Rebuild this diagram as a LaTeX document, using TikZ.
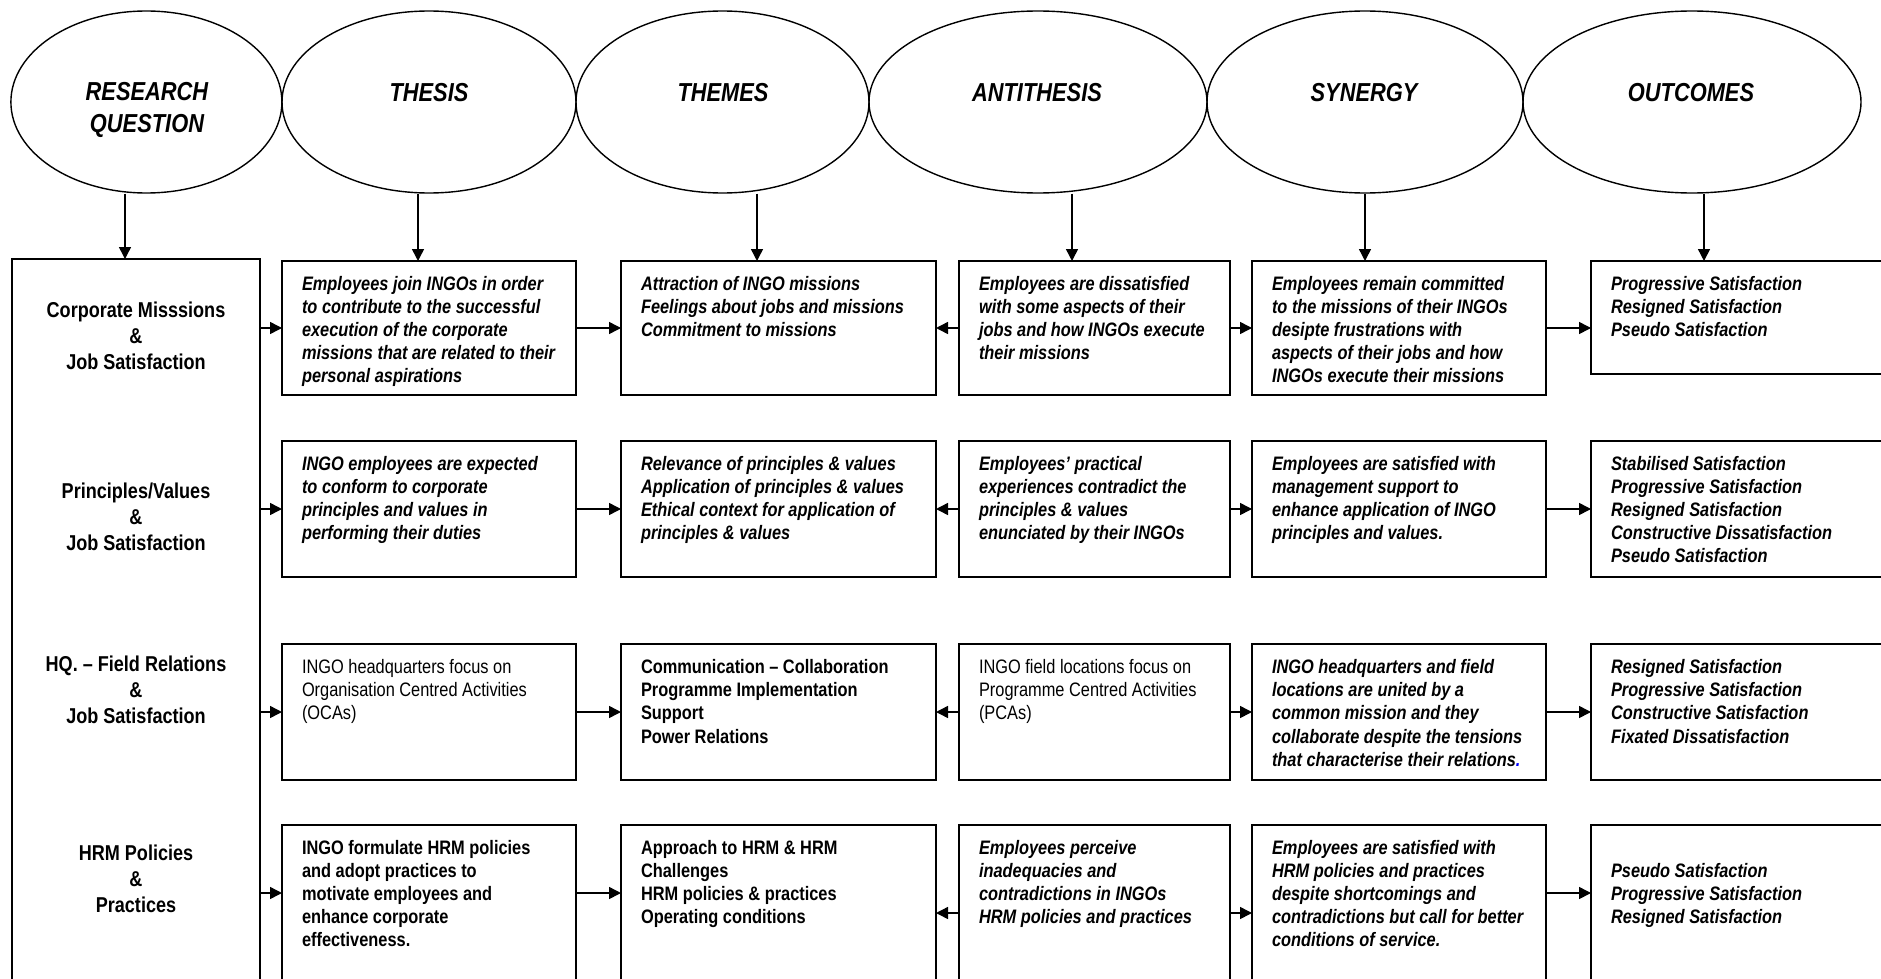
\documentclass[tikz,border=0pt]{standalone}
\usepackage{fontspec}
\setmainfont{Liberation Sans}[FakeStretch=0.84]
\usetikzlibrary{arrows.meta,shapes.geometric}

% cell contents: width, height, first baseline depth, text
\newcommand\cellbox[4]{%
  \hspace*{20pt}\parbox[c][#2pt][t]{\dimexpr#1pt-20pt\relax}{%
    \fontsize{19.5}{23.2}\selectfont\raggedright\rule{0pt}{#3pt}#4}}

\tikzset{
  oval/.style={ellipse, draw, line width=1.4pt, inner sep=0pt, minimum height=182pt},
  ovaltext/.style={align=center, inner sep=0pt, font=\fontsize{26}{32}\selectfont\bfseries\itshape},
  cell/.style={draw, line width=1.8pt, anchor=north west, inner sep=0pt, outer sep=0pt},
  sidetext/.style={align=center, inner sep=0pt, font=\fontsize{21.5}{26}\selectfont\bfseries},
  arr/.style={line width=1.5pt, -{Triangle[length=12pt,width=12pt]}},
}

\begin{document}
\begin{tikzpicture}[x=1pt, y=-1pt]
\useasboundingbox (0,0) rectangle (1881,979);
\clip (0,0) rectangle (1881,979);
\fill[white] (0,0) rectangle (1881,979);

% ---- heading ovals ----
\node[oval, minimum width=271pt] (e1) at (146.4,102) {};
\node[oval, minimum width=294pt] (e2) at (429,102) {};
\node[oval, minimum width=293pt] (e3) at (722.5,102) {};
\node[oval, minimum width=338pt] (e4) at (1038,102) {};
\node[oval, minimum width=316pt] (e5) at (1365,102) {};
\node[oval, minimum width=338pt] (e6) at (1692,102) {};

\node[ovaltext] (h1) at (147,110) {RESEARCH\\QUESTION};
\node[ovaltext] (h2) at (429,93) {THESIS};
\node[ovaltext] (h3) at (723,93) {THEMES};
\node[ovaltext] (h4) at (1037,93) {ANTITHESIS};
\node[ovaltext] (h5) at (1364,93) {SYNERGY};
\node[ovaltext] (h6) at (1691,93) {OUTCOMES};

% ---- left column ----
\node[cell, minimum width=248pt, minimum height=760pt] (lbox) at (12,259) {};
\node[sidetext] (s1) at (136,336) {Corporate Misssions\\\&\\Job Satisfaction};
\node[sidetext] (s2) at (136,517) {Principles/Values\\\&\\Job Satisfaction};
\node[sidetext] (s3) at (136,690) {HQ. – Field Relations\\\&\\Job Satisfaction};
\node[sidetext] (s4) at (136,879) {HRM Policies\\\&\\Practices};

% ---- row 1 ----
\node[cell] (c1r1) at (282,261) {\cellbox{294}{134}{29}{\bfseries\itshape
  Employees join INGOs in order\\to contribute to the successful\\execution of the corporate\\missions that are related to their\\personal aspirations}};
\node[cell] (c2r1) at (621,261) {\cellbox{315}{134}{29}{\bfseries\itshape
  Attraction of INGO missions\\Feelings about jobs and missions\\Commitment to missions}};
\node[cell] (c3r1) at (959,261) {\cellbox{271}{134}{29}{\bfseries\itshape
  Employees are dissatisfied\\with some aspects of their\\jobs and how INGOs execute\\their missions}};
\node[cell] (c4r1) at (1252,261) {\cellbox{294}{134}{29}{\bfseries\itshape
  Employees remain committed\\to the missions of their INGOs\\desipte frustrations with\\aspects of their jobs and how\\INGOs execute their missions}};
\node[cell] (c5r1) at (1591,261) {\cellbox{310}{113}{29}{\bfseries\itshape
  Progressive Satisfaction\\Resigned Satisfaction\\Pseudo Satisfaction}};

% ---- row 2 ----
\node[cell] (c1r2) at (282,441) {\cellbox{294}{136}{29}{\bfseries\itshape
  INGO employees are expected\\to conform to corporate\\principles and values in\\performing their duties}};
\node[cell] (c2r2) at (621,441) {\cellbox{315}{136}{29}{\bfseries\itshape
  Relevance of principles \& values\\Application of principles \& values\\Ethical context for application of\\principles \& values}};
\node[cell] (c3r2) at (959,441) {\cellbox{271}{136}{29}{\bfseries\itshape
  Employees’ practical\\experiences contradict the\\principles \& values\\enunciated by their INGOs}};
\node[cell] (c4r2) at (1252,441) {\cellbox{294}{136}{29}{\bfseries\itshape
  Employees are satisfied with\\management support to\\enhance application of INGO\\principles and values.}};
\node[cell] (c5r2) at (1591,441) {\cellbox{310}{136}{29}{\bfseries\itshape
  Stabilised Satisfaction\\Progressive Satisfaction\\Resigned Satisfaction\\Constructive Dissatisfaction\\Pseudo Satisfaction}};

% ---- row 3 ----
\node[cell] (c1r3) at (282,644) {\cellbox{294}{136}{29.5}{%
  INGO headquarters focus on\\Organisation Centred Activities\\(OCAs)}};
\node[cell] (c2r3) at (621,644) {\cellbox{315}{136}{29.5}{\bfseries
  Communication – Collaboration\\Programme Implementation\\Support\\Power Relations}};
\node[cell] (c3r3) at (959,644) {\cellbox{271}{136}{29.5}{%
  INGO field locations focus on\\Programme Centred Activities\\(PCAs)}};
\node[cell] (c4r3) at (1252,644) {\cellbox{294}{136}{29.5}{\bfseries\itshape
  INGO headquarters and field\\locations are united by a\\common mission and they\\collaborate despite the tensions\\that characterise their relations{\color{blue}.}}};
\node[cell] (c5r3) at (1591,644) {\cellbox{310}{136}{29.5}{\bfseries\itshape
  Resigned Satisfaction\\Progressive Satisfaction\\Constructive Satisfaction\\Fixated Dissatisfaction}};

% ---- row 4 ----
\node[cell] (c1r4) at (282,825) {\cellbox{294}{175}{29}{\bfseries
  INGO formulate HRM policies\\and adopt practices to\\motivate employees and\\enhance corporate\\effectiveness.}};
\node[cell] (c2r4) at (621,825) {\cellbox{315}{175}{29}{\bfseries
  Approach to HRM \& HRM\\Challenges\\HRM policies \& practices\\Operating conditions}};
\node[cell] (c3r4) at (959,825) {\cellbox{271}{175}{29}{\bfseries\itshape
  Employees perceive\\inadequacies and\\contradictions in INGOs\\HRM policies and practices}};
\node[cell] (c4r4) at (1252,825) {\cellbox{294}{175}{29}{\bfseries\itshape
  Employees are satisfied with\\HRM policies and practices\\despite shortcomings and\\contradictions but call for better\\conditions of service.}};
\node[cell] (c5r4) at (1591,825) {\cellbox{310}{175}{52}{\bfseries\itshape
  Pseudo Satisfaction\\Progressive Satisfaction\\Resigned Satisfaction}};

% ---- arrows from the ovals ----
\coordinate (ax1) at (125,0);
\coordinate (ax2) at (418,0);
\coordinate (ax3) at (757,0);
\coordinate (ax4) at (1072,0);
\coordinate (ax5) at (1365,0);
\coordinate (ax6) at (1704,0);
\draw[arr] (e1.south -| ax1) -- (lbox.north -| ax1);
\draw[arr] (e2.south -| ax2) -- (c1r1.north -| ax2);
\draw[arr] (e3.south -| ax3) -- (c2r1.north -| ax3);
\draw[arr] (e4.south -| ax4) -- (c3r1.north -| ax4);
\draw[arr] (e5.south -| ax5) -- (c4r1.north -| ax5);
\draw[arr] (e6.south -| ax6) -- (c5r1.north -| ax6);

% ---- arrows along rows 1-3 ----
\foreach \r in {1,2,3}{
  \draw[arr] (lbox.east |- c1r\r.west) -- (c1r\r.west);
  \draw[arr] (c1r\r.east) -- (c2r\r.west |- c1r\r.east);
  \draw[arr] (c3r\r.west) -- (c2r\r.east |- c3r\r.west);
  \draw[arr] (c3r\r.east) -- (c4r\r.west |- c3r\r.east);
  \draw[arr] (c4r\r.east) -- (c5r\r.west |- c4r\r.east);
}

% ---- arrows along row 4 ----
\coordinate (ya) at (0,893);
\coordinate (yb) at (0,913);
\draw[arr] (lbox.east |- ya) -- (c1r4.west |- ya);
\draw[arr] (c1r4.east |- ya) -- (c2r4.west |- ya);
\draw[arr] (c3r4.west |- yb) -- (c2r4.east |- yb);
\draw[arr] (c3r4.east |- yb) -- (c4r4.west |- yb);
\draw[arr] (c4r4.east |- ya) -- (c5r4.west |- ya);
\end{tikzpicture}
\end{document}
